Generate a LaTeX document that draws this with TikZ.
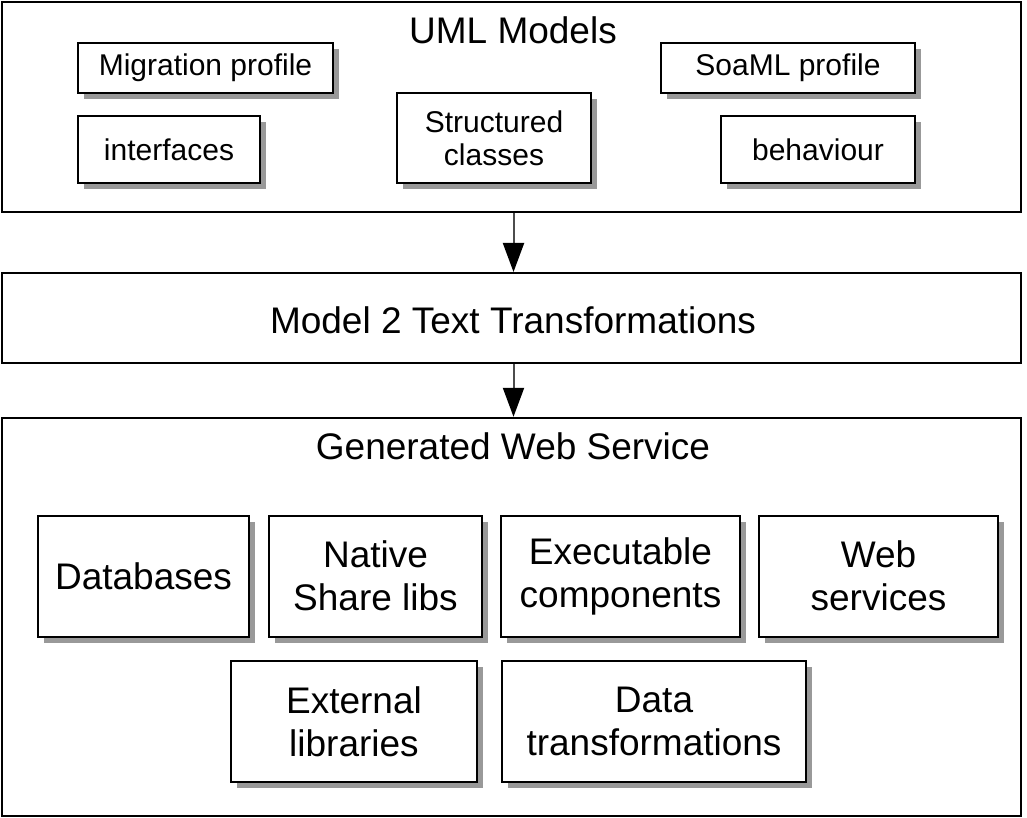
\documentclass[tikz,border=0pt]{standalone}
\usepackage{fontspec}
\setmainfont{Liberation Sans}
\usetikzlibrary{positioning,shadows,arrows.meta}

\begin{document}
\begin{tikzpicture}[x=1pt,y=-1pt,
  outer/.style={draw,line width=2.4pt,minimum width=1019pt,inner sep=0pt},
  part/.style={draw,fill=white,line width=2pt,inner sep=0pt,align=center,
    drop shadow={shadow xshift=6pt,shadow yshift=-6pt,fill=black!40,opacity=1}},
  small/.style={part,font=\fontsize{30}{33}\selectfont},
  big/.style={part,font=\fontsize{37}{43}\selectfont,minimum height=121pt},
  title/.style={font=\fontsize{37}{43}\selectfont},
  arr/.style={draw=black!70,line width=2pt,-{Triangle[width=21pt,length=29pt,black]}}]
\useasboundingbox (0,0) rectangle (1027,818);
\node[outer,minimum height=210pt](uml) at (511.5,107){};
\node[outer,minimum height=90pt,line width=2pt](m2t) at (511.5,318){};
\node[outer,minimum height=398pt](gen) at (511.5,617){};
\node[title](umlt) at (513,30){UML Models};
\node[title](m2tt) at (513,320){Model 2 Text Transformations};
\node[title](gent) at (513,446){Generated Web Service};
\node[small,minimum width=255pt,minimum height=50pt](migr) at (205.5,68){Migration profile};
\node[small,minimum width=182pt,minimum height=67pt](intf) at (169,149.5){interfaces};
\node[small,minimum width=194pt,minimum height=90pt](struct) at (494,138){Structured\\classes};
\node[small,minimum width=254pt,minimum height=50pt](soaml) at (788,68){SoaML profile};
\node[small,minimum width=194pt,minimum height=67pt](behav) at (818,149.5){behaviour};
\node[big,minimum width=211pt](db) at (143.5,576){Databases};
\node[big,minimum width=213pt,right=18pt of db](native){Native\\Share libs};
\node[big,minimum width=239pt,right=17pt of native](exe){Executable\\components};
\node[big,minimum width=239pt,right=17pt of exe](web){Web\\services};
\node[big,minimum width=246pt](ext) at (354,721.5){External\\libraries};
\node[big,minimum width=304pt](data) at (654,721.5){Data\\transformations};
\draw[arr] ([xshift=2pt]uml.south) -- ([xshift=2pt]m2t.north);
\draw[arr] ([xshift=2pt]m2t.south) -- ([xshift=2pt]gen.north);
\end{tikzpicture}
\end{document}
